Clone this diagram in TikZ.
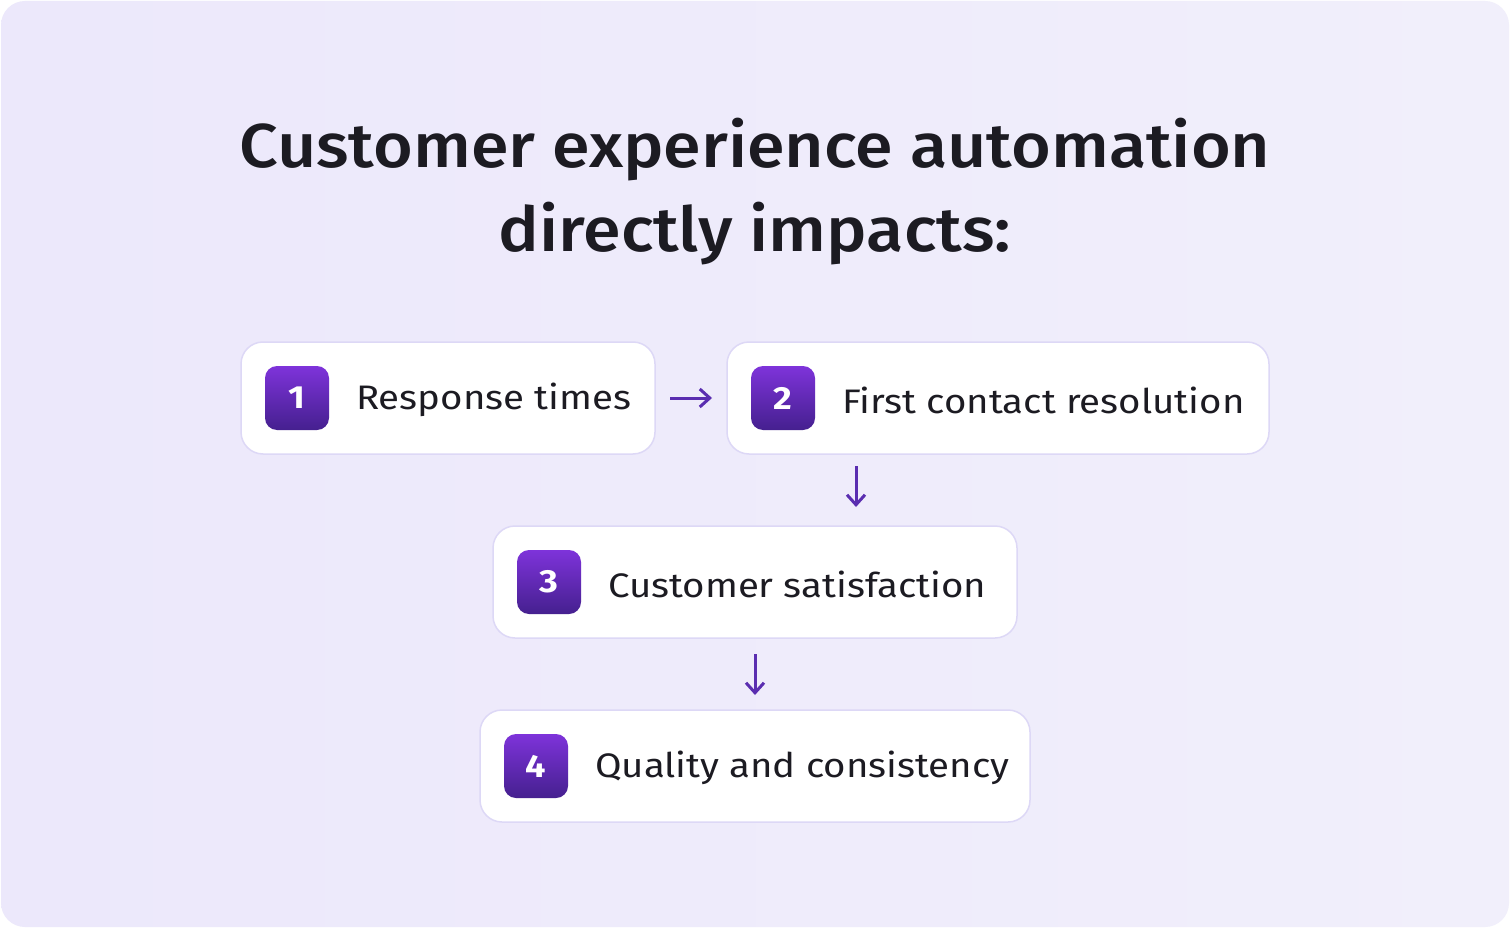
\documentclass[tikz,border=0pt]{standalone}
\usepackage{fontspec}
\setmainfont{Fira Sans}[FakeStretch=1.13]
\newfontfamily\titlefont{Fira Sans Medium}[FakeStretch=1.1]
\usetikzlibrary{arrows.meta}
\definecolor{bgc}{HTML}{ECE8FB}
\definecolor{bgd}{HTML}{F1EFFB}
\definecolor{bordc}{HTML}{DDD8F6}
\definecolor{txt}{HTML}{1C1B22}
\definecolor{ptop}{HTML}{7E33DA}
\definecolor{pbot}{HTML}{45208F}
\definecolor{arr}{HTML}{5A2DB0}
\begin{document}
\begin{tikzpicture}[x=1pt,y=-1pt,
  card/.style={draw=bordc,line width=1.5pt,fill=white,rounded corners=22pt},
  badge/.style={rounded corners=12pt,top color=ptop,bottom color=pbot,draw=none,minimum size=64pt,inner sep=0pt,text=white,font=\fontsize{32}{32}\selectfont\bfseries},
  lbl/.style={anchor=west,inner sep=0pt,text=txt,font=\fontsize{34}{34}\selectfont},
  conn/.style={draw=arr,line width=3pt,-{Straight Barb[length=10pt,width=18pt,line width=3pt]}}]
\useasboundingbox (0,0) rectangle (1510,928);
\fill[white] (0,0) rectangle (1510,928);
\shade[left color=bgc,right color=bgd,rounded corners=24pt] (1,1) rectangle (1509,927);
\node[text=txt,font=\titlefont\fontsize{62}{84}\selectfont,align=center] (title) at (755,192) {Customer experience automation\\directly impacts:};
\node[card,minimum width=414pt,minimum height=112pt] (c1) at (448,398) {};
\node[card,minimum width=542pt,minimum height=112pt] (c2) at (998,398) {};
\node[card,minimum width=524pt,minimum height=112pt] (c3) at (755,582) {};
\node[card,minimum width=550pt,minimum height=112pt] (c4) at (755,766) {};
\node[badge] (b1) at (297,398) {1};
\node[badge] (b2) at (783,398) {2};
\node[badge] (b3) at (549,582) {3};
\node[badge] (b4) at (536,766) {4};
\node[lbl] (t1) at (356,400) {Response times};
\node[lbl] (t2) at (842,400) {First contact resolution};
\node[lbl] (t3) at (608,584) {Customer satisfaction};
\node[lbl] (t4) at (595,768) {Quality and consistency};
\coordinate (a1s) at (670,398); \coordinate (a1e) at (712,398);
\coordinate (a2s) at (856,466); \coordinate (a2e) at (856,507);
\coordinate (a3s) at (755,654); \coordinate (a3e) at (755,695);
\draw[conn] (a1s) -- (a1e);
\draw[conn] (a2s) -- (a2e);
\draw[conn] (a3s) -- (a3e);
\end{tikzpicture}
\end{document}
